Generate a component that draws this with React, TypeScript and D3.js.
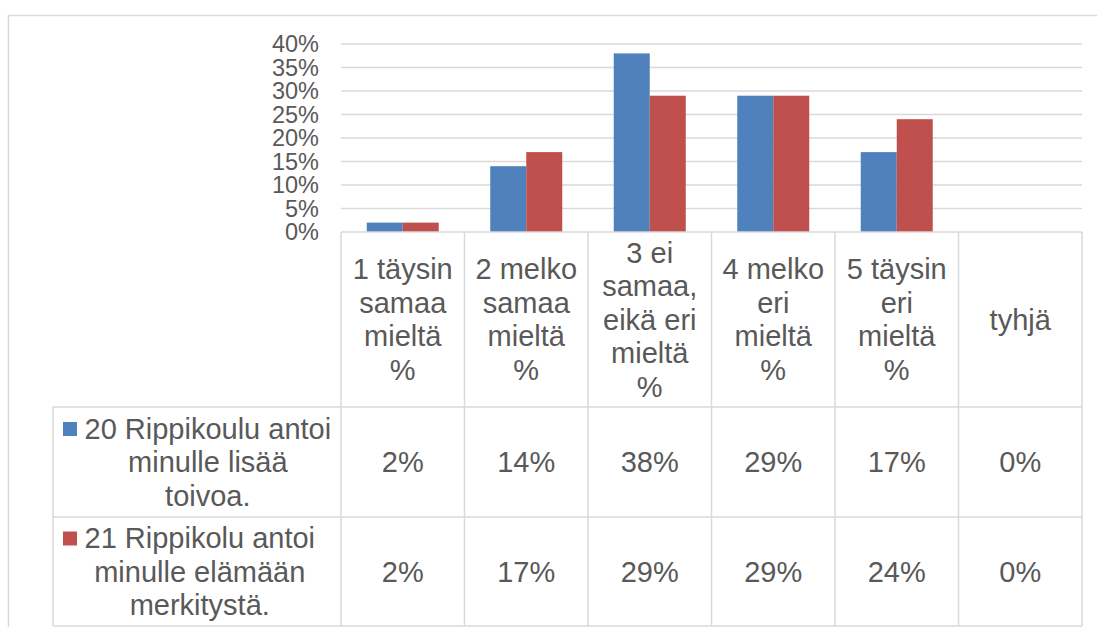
import { useEffect, useRef } from 'react';
import * as d3 from 'd3';

const categories = ['c1', 'c2', 'c3', 'c4', 'c5', 'c6'];
const categoryLabels = [
  ['1 täysin', 'samaa', 'mieltä', '%'],
  ['2 melko', 'samaa', 'mieltä', '%'],
  ['3 ei', 'samaa,', 'eikä eri', 'mieltä', '%'],
  ['4 melko', 'eri', 'mieltä', '%'],
  ['5 täysin', 'eri', 'mieltä', '%'],
  ['tyhjä'],
];
const seriesNames = [
  ['20 Rippikoulu antoi', 'minulle lisää', 'toivoa.'],
  ['21 Rippikolu antoi', 'minulle elämään', 'merkitystä.'],
];
const hope = [0.02, 0.14, 0.38, 0.29, 0.17, 0];
const meaning = [0.02, 0.17, 0.29, 0.29, 0.24, 0];
const colors = ['#4f81bd', '#c0504d'];
const yTicks = [0, 0.05, 0.1, 0.15, 0.2, 0.25, 0.3, 0.35, 0.4];

const App = () => {
  const svgRef = useRef<SVGSVGElement>(null);

  useEffect(() => {
    const svg = d3.select(svgRef.current);
    svg.selectAll('*').remove();

    const font = '"Liberation Sans", Arial, sans-serif';
    const textColor = '#595959';
    const lineColor = '#d9d9d9';
    const fs = 29;

    const left = 341, right = 1082;
    const top = 44, base = 232;
    const row1 = 407, row2 = 517, bottom = 626;
    const legendLeft = 53;
    const lineH = 33.5;

    const x = d3.scaleBand().domain(categories).range([left, right]);
    const xs = d3.scaleBand().domain(['0', '1']).range([0, x.bandwidth()]).paddingOuter(0.715);
    const y = d3.scaleLinear().domain([0, 0.4]).range([base, top]);
    const series = [hope, meaning];

    // outer frame
    svg.append('rect')
      .attr('x', 8.5).attr('y', 15.5)
      .attr('width', 1200).attr('height', 700)
      .attr('fill', 'none').attr('stroke', lineColor).attr('stroke-width', 1.5);

    // gridlines
    svg.append('g').selectAll('line')
      .data(yTicks.slice(1))
      .join('line')
      .attr('x1', left).attr('x2', right)
      .attr('y1', d => y(d)).attr('y2', d => y(d))
      .attr('stroke', lineColor).attr('stroke-width', 1.5);

    // y tick labels
    svg.append('g').selectAll('text')
      .data(yTicks)
      .join('text')
      .attr('x', 319).attr('y', d => y(d))
      .attr('text-anchor', 'end').attr('dominant-baseline', 'central')
      .attr('font-family', font).attr('font-size', 23.5).attr('fill', textColor)
      .text(d => d3.format('.0%')(d));

    // bars
    series.forEach((vals, si) => {
      svg.append('g').selectAll('rect')
        .data(vals)
        .join('rect')
        .attr('x', (_, i) => (x(categories[i]) as number) + (xs(String(si)) as number))
        .attr('width', xs.bandwidth())
        .attr('y', d => y(d))
        .attr('height', d => base - y(d))
        .attr('fill', colors[si]);
    });

    // table lines
    const g = svg.append('g').attr('stroke', lineColor).attr('stroke-width', 1.5);
    g.append('line').attr('x1', left).attr('x2', right).attr('y1', base).attr('y2', base);
    [row1, row2, bottom].forEach(yy => {
      g.append('line').attr('x1', legendLeft).attr('x2', right).attr('y1', yy).attr('y2', yy);
    });
    const vx = categories.map(c => x(c) as number).concat([right]);
    vx.forEach(xx => {
      g.append('line').attr('x1', xx).attr('x2', xx).attr('y1', base).attr('y2', bottom);
    });
    g.append('line').attr('x1', legendLeft).attr('x2', legendLeft).attr('y1', row1).attr('y2', bottom);

    // header labels
    const headMid = (base + row1) / 2;
    categoryLabels.forEach((lines, i) => {
      const cx = (x(categories[i]) as number) + x.bandwidth() / 2;
      const t = svg.append('text')
        .attr('font-family', font).attr('font-size', fs).attr('fill', textColor)
        .attr('text-anchor', 'middle');
      lines.forEach((ln, j) => {
        t.append('tspan')
          .attr('x', cx)
          .attr('y', headMid + (j - (lines.length - 1) / 2) * lineH)
          .attr('dominant-baseline', 'central')
          .text(ln);
      });
    });

    // value rows
    const rowMids = [(row1 + row2) / 2, (row2 + bottom) / 2];
    series.forEach((vals, si) => {
      svg.append('g').selectAll('text')
        .data(vals)
        .join('text')
        .attr('x', (_, i) => (x(categories[i]) as number) + x.bandwidth() / 2)
        .attr('y', rowMids[si])
        .attr('text-anchor', 'middle').attr('dominant-baseline', 'central')
        .attr('font-family', font).attr('font-size', fs).attr('fill', textColor)
        .text(d => d3.format('.0%')(d));
    });

    // legend cells
    seriesNames.forEach((lines, si) => {
      const textLeft = 84.5;
      const t = svg.append('text')
        .attr('font-family', font).attr('font-size', fs).attr('fill', textColor);
      const spans = lines.map((ln, j) =>
        t.append('tspan')
          .attr('y', rowMids[si] + (j - (lines.length - 1) / 2) * lineH)
          .attr('dominant-baseline', 'central')
          .text(ln)
      );
      const widths = spans.map(s => (s.node() as SVGTSpanElement).getComputedTextLength());
      const maxW = d3.max(widths) as number;
      spans.forEach((s, j) => s.attr('x', textLeft + (maxW - widths[j]) / 2));
      svg.append('rect')
        .attr('x', 63).attr('y', rowMids[si] - lineH - 6.5)
        .attr('width', 14).attr('height', 14)
        .attr('fill', colors[si]);
    });
  }, []);

  return (
    <svg
      ref={svgRef}
      width={1097}
      height={627}
      style={{ position: 'absolute', left: 0, top: 0, background: '#fff' }}
    />
  );
};

export default App;
